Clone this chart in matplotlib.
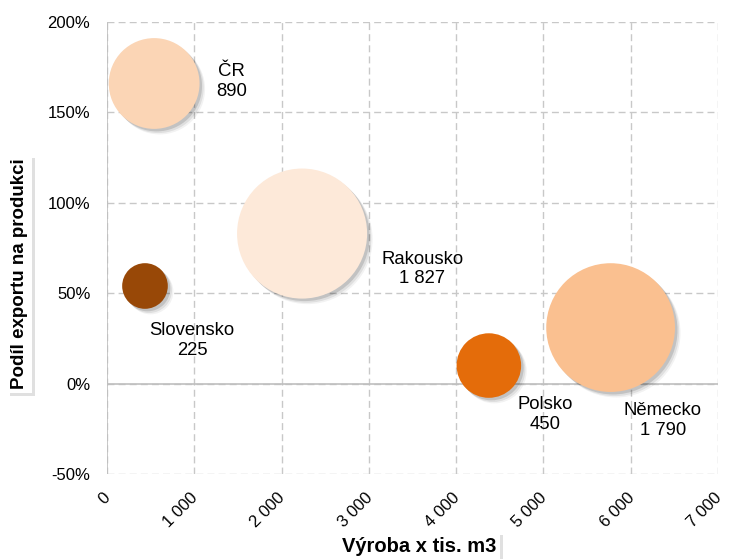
import matplotlib
matplotlib.use("Agg")
import matplotlib.pyplot as plt
import matplotlib.patheffects as pe
import matplotlib.transforms as mtrans
from matplotlib.ticker import FuncFormatter, MultipleLocator

plt.rcParams['font.family'] = ['Liberation Sans', 'DejaVu Sans']

# data
countries = ['ČR', 'Rakousko', 'Slovensko', 'Polsko', 'Německo']
vyroba = [540, 2235, 435, 4375, 5770]          # x: výroba (tis. m3)
podil = [1.66, 0.83, 0.54, 0.10, 0.31]          # y: podíl exportu na produkci
velikost = [890, 1827, 225, 450, 1790]          # bubble size
barvy = ['#FBD5B5', '#FDE9D9', '#984807', '#E46C0A', '#FAC090']
label_pos = [(1430, 1.67), (3610, 0.635), (975, 0.24), (5015, -0.17), (6370, -0.205)]

fig = plt.figure(figsize=(7.33, 5.59), dpi=100)
ax = fig.add_axes([0.146, 0.152, 0.8335, 0.8086])

shadow = [pe.SimplePatchShadow(offset=(4, -4), shadow_rgbFace='#000000', alpha=0.05),
          pe.SimplePatchShadow(offset=(3, -3), shadow_rgbFace='#000000', alpha=0.08),
          pe.SimplePatchShadow(offset=(1.8, -1.8), shadow_rgbFace='#000000', alpha=0.13),
          pe.Normal()]

for x, y, s, c in zip(vyroba, podil, velikost, barvy):
    sc = ax.scatter([x], [y], s=s * 4.8, color=c, edgecolors='none', zorder=3)
    sc.set_path_effects(shadow)

for name, s, (lx, ly) in zip(countries, velikost, label_pos):
    txt = name + '\n' + f'{s:,}'.replace(',', ' ')
    ax.text(lx, ly, txt, ha='center', va='center', fontsize=13.3,
            linespacing=1.2, color='#000000', zorder=4)

ax.set_xlim(0, 7000)
ax.set_ylim(-0.5, 2.0)
ax.xaxis.set_major_locator(MultipleLocator(1000))
ax.yaxis.set_major_locator(MultipleLocator(0.5))
ax.xaxis.set_major_formatter(FuncFormatter(lambda v, p: f'{int(v):,}'.replace(',', ' ')))
ax.yaxis.set_major_formatter(FuncFormatter(lambda v, p: f'{v * 100:.0f}%'))

ax.grid(True, linestyle=(0, (5, 3)), color='#C8C8C8', linewidth=1)
ax.set_axisbelow(True)
for sp in ax.spines.values():
    sp.set_visible(False)
ax.axvline(0, color='#BFBFBF', linewidth=1.2, zorder=2)
ax.axhline(0, color='#BFBFBF', linewidth=1.2, zorder=2)

ax.tick_params(axis='both', length=0, labelsize=12)
ax.tick_params(axis='y', pad=12)
ax.tick_params(axis='x', pad=14)
shift = mtrans.ScaledTranslation(-3 / 72, 2.5 / 72, fig.dpi_scale_trans)
for lab in ax.get_xticklabels():
    lab.set_rotation(45)
    lab.set_ha('right')
    lab.set_va('top')
    lab.set_rotation_mode('anchor')
    lab.set_transform(lab.get_transform() + shift)

box = dict(boxstyle='square,pad=0.2', fc='white', ec='none')
xl = fig.text(0.572, 0.023, 'Výroba x tis. m3', ha='center', va='center',
              fontsize=14.5, fontweight='bold', bbox=box)
yl = fig.text(0.027, 0.51, 'Podíl exportu na produkci', ha='center', va='center',
              rotation=90, fontsize=13.5, fontweight='bold', bbox=box)
fig.canvas.draw()
for t in (xl, yl):
    t.get_bbox_patch().set_path_effects([
        pe.SimplePatchShadow(offset=(2, -2), shadow_rgbFace='#000000', alpha=0.12),
        pe.Normal()])

fig.savefig('out.png', dpi=100)
